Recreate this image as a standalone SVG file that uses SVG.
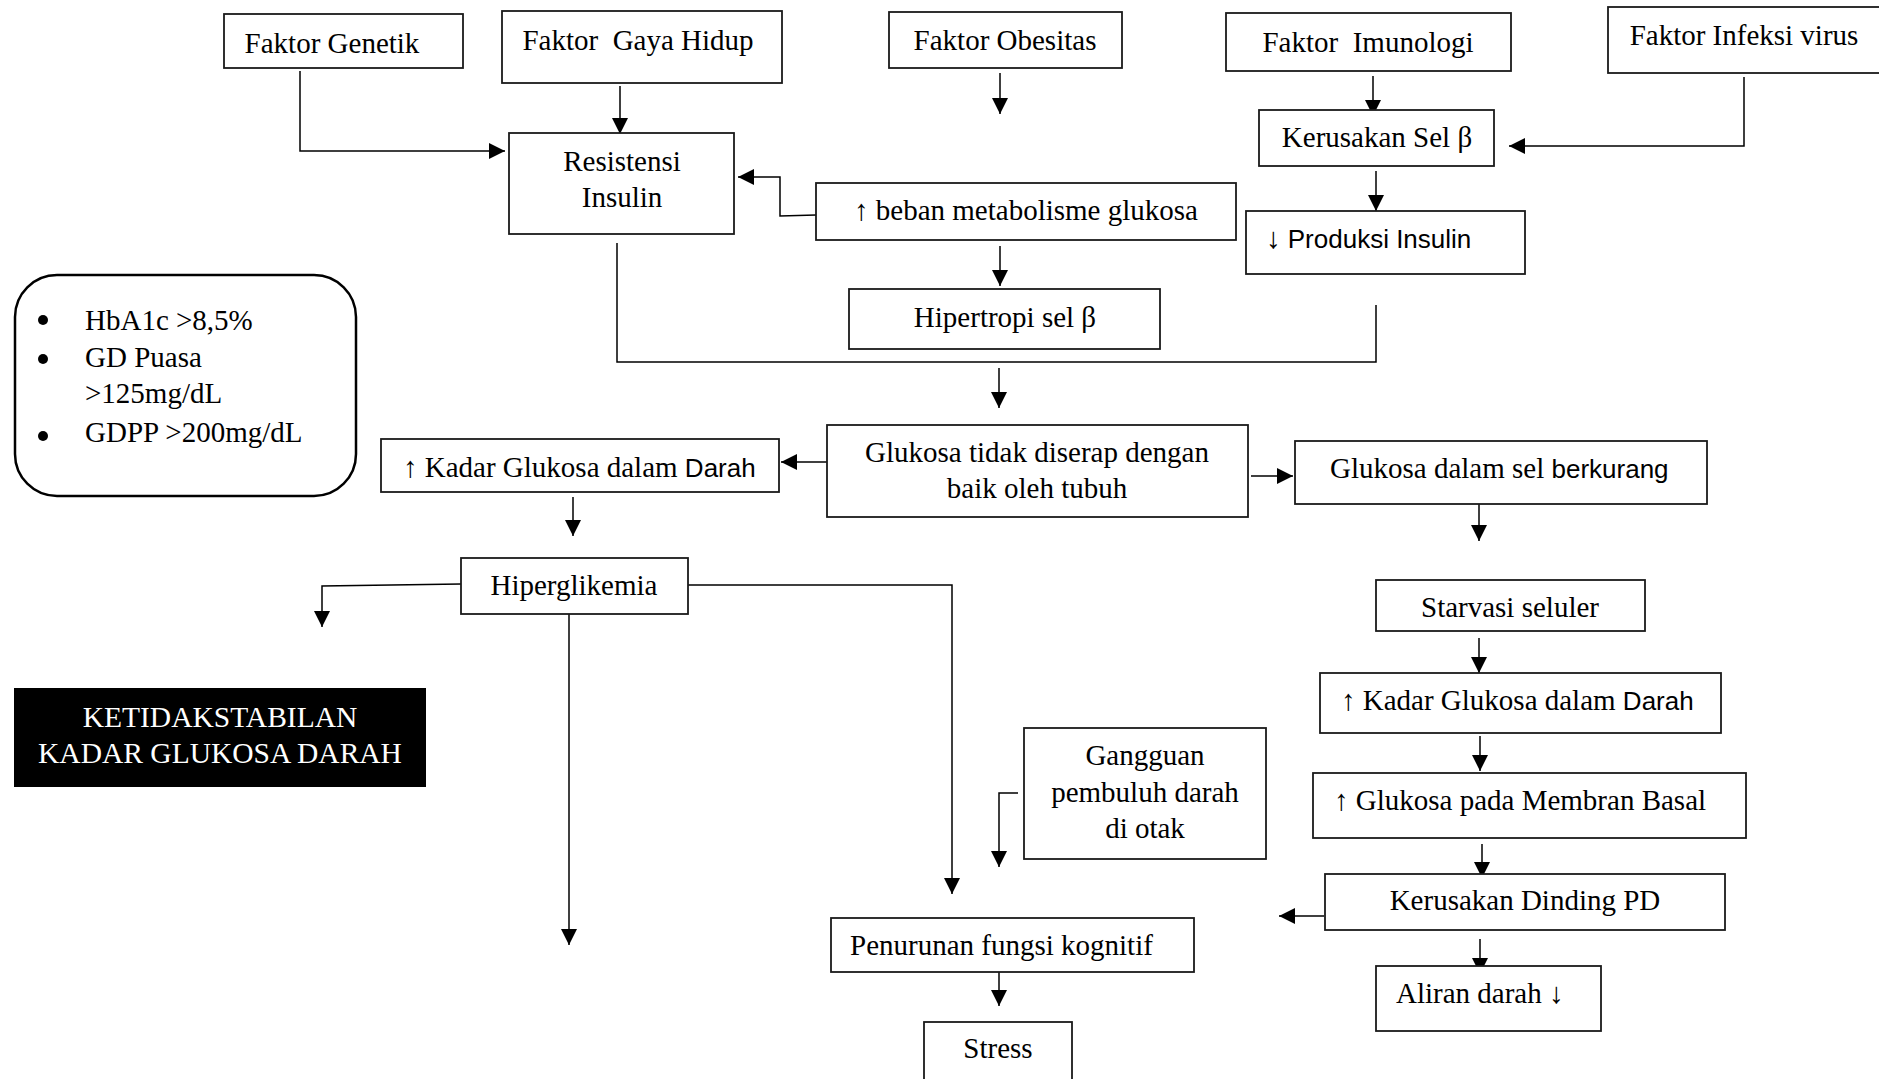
<svg xmlns="http://www.w3.org/2000/svg" width="1879" height="1079" viewBox="0 0 1879 1079">
<style>
.box{fill:#fff;stroke:#1a1a1a;stroke-width:1.8}
.t{font-family:"Liberation Serif","Times New Roman",serif;font-size:29px;fill:#000}
.m{text-anchor:middle}
.s{font-family:"Liberation Sans",Arial,sans-serif;font-size:26px}
.c{fill:none;stroke:#000;stroke-width:1.5}
</style>
<defs>
<marker id="ah" markerUnits="userSpaceOnUse" markerWidth="17" markerHeight="16" refX="16" refY="8" orient="auto">
<path d="M0,0 L16,8 L0,16 z" fill="#000"/>
</marker>
</defs>
<rect width="1879" height="1079" fill="#fff"/>

<g id="connectors">
<polyline class="c" points="300,71 300,151 505,151" marker-end="url(#ah)"/>
<line class="c" x1="620" y1="86" x2="620" y2="134" marker-end="url(#ah)"/>
<polyline class="c" points="816,215 780,216 780,177 738,177" marker-end="url(#ah)"/>
<line class="c" x1="1000" y1="73" x2="1000" y2="114" marker-end="url(#ah)"/>
<line class="c" x1="1373" y1="76" x2="1373" y2="116" marker-end="url(#ah)"/>
<polyline class="c" points="1744,77 1744,146 1509,146" marker-end="url(#ah)"/>
<line class="c" x1="1376" y1="171" x2="1376" y2="211" marker-end="url(#ah)"/>
<line class="c" x1="1000" y1="246" x2="1000" y2="286" marker-end="url(#ah)"/>
<polyline class="c" points="617,243 617,362 1376,362 1376,305"/>
<line class="c" x1="999" y1="368" x2="999" y2="408" marker-end="url(#ah)"/>
<line class="c" x1="827" y1="462" x2="781" y2="462" marker-end="url(#ah)"/>
<line class="c" x1="1251" y1="476" x2="1293" y2="476" marker-end="url(#ah)"/>
<line class="c" x1="1479" y1="504" x2="1479" y2="541" marker-end="url(#ah)"/>
<line class="c" x1="573" y1="497" x2="573" y2="536" marker-end="url(#ah)"/>
<polyline class="c" points="461,584 322,586 322,627" marker-end="url(#ah)"/>
<line class="c" x1="569" y1="614" x2="569" y2="945" marker-end="url(#ah)"/>
<polyline class="c" points="688,585 952,585 952,894" marker-end="url(#ah)"/>
<polyline class="c" points="1018,793 999,793 999,867" marker-end="url(#ah)"/>
<line class="c" x1="1324" y1="916" x2="1279" y2="916" marker-end="url(#ah)"/>
<line class="c" x1="1479" y1="638" x2="1479" y2="673" marker-end="url(#ah)"/>
<line class="c" x1="1480" y1="736" x2="1480" y2="771" marker-end="url(#ah)"/>
<line class="c" x1="1482" y1="844" x2="1482" y2="878" marker-end="url(#ah)"/>
<line class="c" x1="1480" y1="939" x2="1480" y2="974" marker-end="url(#ah)"/>
<line class="c" x1="999" y1="972" x2="999" y2="1006" marker-end="url(#ah)"/>
</g>

<g id="faktor-genetik"><rect class="box" x="224" y="14" width="239" height="54"/><text class="t m" x="332" y="53">Faktor Genetik</text></g>
<g id="faktor-gaya-hidup"><rect class="box" x="502" y="11" width="280" height="72"/><text class="t m" x="638" y="50">Faktor&#160; Gaya Hidup</text></g>
<g id="faktor-obesitas"><rect class="box" x="889" y="12" width="233" height="56"/><text class="t m" x="1005" y="50">Faktor Obesitas</text></g>
<g id="faktor-imunologi"><rect class="box" x="1226" y="13" width="285" height="58"/><text class="t m" x="1368" y="52">Faktor&#160; Imunologi</text></g>
<g id="faktor-infeksi"><rect class="box" x="1608" y="7" width="280" height="66"/><text class="t m" x="1744" y="45">Faktor Infeksi virus</text></g>
<g id="resistensi"><rect class="box" x="509" y="133" width="225" height="101"/><text class="t m" x="622" y="171">Resistensi</text><text class="t m" x="622" y="207">Insulin</text></g>
<g id="kerusakan-sel"><rect class="box" x="1259" y="110" width="235" height="56"/><text class="t m" x="1377" y="147">Kerusakan Sel β</text></g>
<g id="beban"><rect class="box" x="816" y="183" width="420" height="57"/><text class="t m" x="1026" y="220">↑ beban metabolisme glukosa</text></g>
<g id="produksi"><rect class="box" x="1246" y="211" width="279" height="63"/><text class="t" x="1266" y="248">↓ <tspan class="s">Produksi Insulin</tspan></text></g>
<g id="hipertropi"><rect class="box" x="849" y="289" width="311" height="60"/><text class="t m" x="1005" y="327">Hipertropi sel β</text></g>
<g id="glukosa-tidak"><rect class="box" x="827" y="425" width="421" height="92"/><text class="t m" x="1037" y="462">Glukosa tidak diserap dengan</text><text class="t m" x="1037" y="498">baik oleh tubuh</text></g>
<g id="kadar-kiri"><rect class="box" x="381" y="439" width="398" height="53"/><text class="t" x="403" y="477">↑ Kadar Glukosa dalam <tspan class="s">Darah</tspan></text></g>
<g id="glukosa-sel"><rect class="box" x="1295" y="441" width="412" height="63"/><text class="t" x="1330" y="478">Glukosa dalam sel <tspan class="s">berkurang</tspan></text></g>
<g id="hiperglikemia"><rect class="box" x="461" y="558" width="227" height="56"/><text class="t m" x="574" y="595">Hiperglikemia</text></g>
<g id="kriteria"><rect x="15" y="275" width="341" height="221" rx="42" ry="42" fill="#fff" stroke="#000" stroke-width="2.5"/>
<circle cx="43" cy="320" r="5"/><circle cx="43" cy="359" r="5"/><circle cx="43" cy="436" r="5"/>
<text class="t" x="85" y="330">HbA1c &gt;8,5%</text><text class="t" x="85" y="367">GD Puasa</text><text class="t" x="85" y="403">&gt;125mg/dL</text><text class="t" x="85" y="442">GDPP &gt;200mg/dL</text></g>
<g id="ketidakstabilan"><rect x="14" y="688" width="412" height="99" fill="#000"/><text class="t m" x="220" y="727" style="fill:#fff;font-size:29.5px">KETIDAKSTABILAN</text><text class="t m" x="220" y="763" style="fill:#fff;font-size:29.5px">KADAR GLUKOSA DARAH</text></g>
<g id="starvasi"><rect class="box" x="1376" y="580" width="269" height="51"/><text class="t m" x="1510" y="617">Starvasi seluler</text></g>
<g id="kadar-kanan"><rect class="box" x="1320" y="673" width="401" height="60"/><text class="t" x="1341" y="710">↑ Kadar Glukosa dalam <tspan class="s">Darah</tspan></text></g>
<g id="membran"><rect class="box" x="1313" y="773" width="433" height="65"/><text class="t" x="1334" y="810">↑ Glukosa pada Membran Basal</text></g>
<g id="kerusakan-dinding"><rect class="box" x="1325" y="874" width="400" height="56"/><text class="t m" x="1525" y="910">Kerusakan Dinding PD</text></g>
<g id="aliran"><rect class="box" x="1376" y="966" width="225" height="65"/><text class="t" x="1396" y="1003">Aliran darah ↓</text></g>
<g id="gangguan"><rect class="box" x="1024" y="728" width="242" height="131"/><text class="t m" x="1145" y="765">Gangguan</text><text class="t m" x="1145" y="802">pembuluh darah</text><text class="t m" x="1145" y="838">di otak</text></g>
<g id="penurunan"><rect class="box" x="831" y="918" width="363" height="54"/><text class="t" x="850" y="955">Penurunan fungsi kognitif</text></g>
<g id="stress"><rect class="box" x="924" y="1022" width="148" height="70"/><text class="t m" x="998" y="1058">Stress</text></g>
</svg>
